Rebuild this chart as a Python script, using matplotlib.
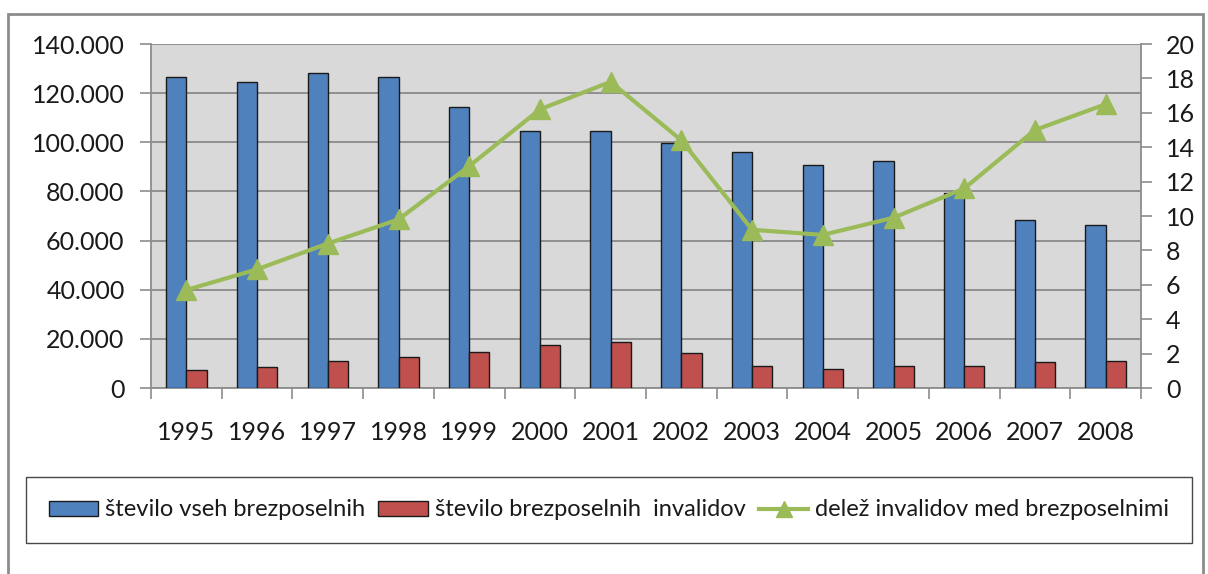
import matplotlib
matplotlib.use("Agg")
import matplotlib.pyplot as plt
import numpy as np
from matplotlib.patches import Rectangle, Patch
from matplotlib.lines import Line2D
from matplotlib.ticker import FuncFormatter, FixedLocator

plt.rcParams['font.family'] = ['Lato', 'DejaVu Sans']

years = ['1995', '1996', '1997', '1998', '1999', '2000', '2001',
         '2002', '2003', '2004', '2005', '2006', '2007', '2008']
vsi = [126700, 124700, 128300, 126700, 114300, 104400, 104400,
       99600, 96000, 90800, 92400, 79300, 68300, 66300]
invalidi = [7300, 8400, 11000, 12600, 14600, 17300, 18700,
            14100, 8900, 7900, 8900, 8900, 10600, 11000]
delez = [5.7, 6.9, 8.4, 9.8, 12.9, 16.2, 17.8,
         14.4, 9.2, 8.9, 9.9, 11.6, 15.0, 16.5]

BLUE = '#4F81BD'
RED = '#C0504D'
GREEN = '#9BBB59'
FS = 18      # tick labels
LFS = 17     # legend

W, H = 1208, 574
fig = plt.figure(figsize=(W / 100, H / 100), dpi=100)
fig.patch.set_facecolor('white')

# outer chart frame (cut off at bottom like the screenshot)
fig.add_artist(Rectangle((8 / W, -0.05), 1195 / W, (H - 14) / H + 0.05,
                         transform=fig.transFigure, fill=False,
                         edgecolor='#8c8c8c', lw=2))

ax = fig.add_axes([151 / W, (H - 388) / H, 990 / W, 344 / H])
ax.set_facecolor('#D9D9D9')

x = np.arange(len(years))
w = 0.2857
ax.bar(x - w / 2, vsi, w, color=BLUE, edgecolor='#1a1a1a', lw=1, zorder=3)
ax.bar(x + w / 2, invalidi, w, color=RED, edgecolor='#1a1a1a', lw=1, zorder=3)

ax.set_xlim(-0.5, len(years) - 0.5)
ax.set_ylim(0, 140000)
ax.set_yticks(np.arange(0, 140001, 20000))
ax.yaxis.set_major_formatter(FuncFormatter(lambda v, p: f"{int(v):,}".replace(',', '.')))
ax.grid(axis='y', color='#8a8a8a', lw=1.3, zorder=1)

ax.xaxis.set_major_locator(FixedLocator(np.arange(-0.5, len(years), 1.0)))
ax.xaxis.set_major_formatter(FuncFormatter(lambda v, p: ''))
ax.xaxis.set_minor_locator(FixedLocator(x))
ax.set_xticklabels(years, minor=True)
ax.tick_params(axis='x', which='major', length=8, color='#8c8c8c', width=1.2)
ax.tick_params(axis='x', which='minor', length=0, pad=24, labelsize=FS, labelcolor='#1a1a1a')
ax.tick_params(axis='y', length=8, color='#8c8c8c', width=1.2, pad=11,
               labelsize=FS, labelcolor='#1a1a1a')

for s in ['top', 'right']:
    ax.spines[s].set_visible(False)
for s in ['left', 'bottom']:
    ax.spines[s].set_color('#8c8c8c')
    ax.spines[s].set_linewidth(1.3)

ax2 = ax.twinx()
ax2.plot(x, delez, color=GREEN, lw=3, marker='^', ms=14, zorder=5)
ax2.set_ylim(0, 20)
ax2.set_yticks(np.arange(0, 21, 2))
ax2.tick_params(axis='y', length=8, color='#8c8c8c', width=1.2, pad=10,
                labelsize=FS, labelcolor='#1a1a1a')
for s in ['top', 'left', 'bottom']:
    ax2.spines[s].set_visible(False)
ax2.spines['right'].set_color('#8c8c8c')
ax2.spines['right'].set_linewidth(1.3)

handles = [Patch(facecolor=BLUE, edgecolor='#1a1a1a', lw=1),
           Patch(facecolor=RED, edgecolor='#1a1a1a', lw=1),
           Line2D([], [], color=GREEN, lw=3, marker='^', ms=12)]
labels = ['število vseh brezposelnih', 'število brezposelnih  invalidov',
          'delež invalidov med brezposelnimi']
leg = fig.legend(handles, labels, loc='center',
                 bbox_to_anchor=(609 / W, (H - 510) / H), ncol=3,
                 fontsize=LFS, frameon=True, fancybox=False,
                 handlelength=2.1, handleheight=0.6, handletextpad=0.3,
                 columnspacing=0.55, borderpad=0.95, borderaxespad=0,
                 labelcolor='#1a1a1a')
leg.get_frame().set_edgecolor('#1a1a1a')
leg.get_frame().set_linewidth(1)

fig.savefig('out.png', dpi=100, facecolor='white')
